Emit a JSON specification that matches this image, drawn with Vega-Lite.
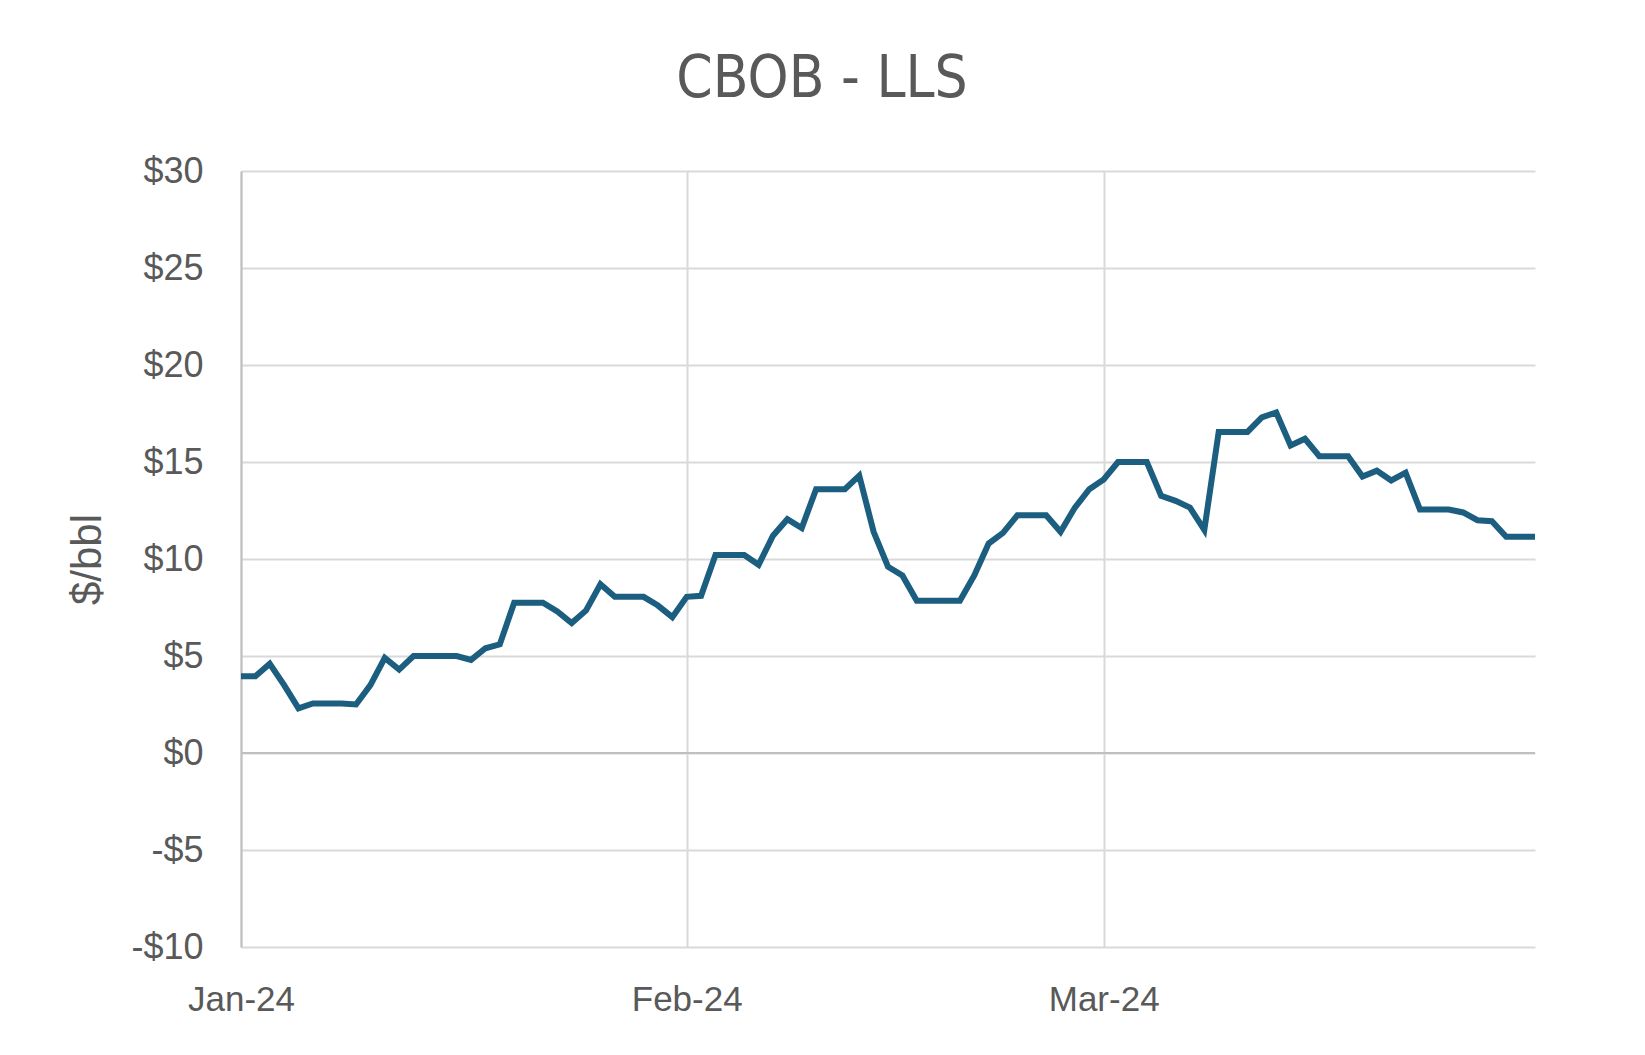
{
  "$schema": "https://vega.github.io/schema/vega-lite/v6.json",
  "autosize": "none",
  "width": 1294,
  "height": 776,
  "padding": {"left": 241, "top": 171, "right": 110, "bottom": 108},
  "background": "white",
  "title": {
    "text": "CBOB - LLS",
    "font": "DejaVu Sans Condensed, Liberation Sans",
    "fontSize": 58,
    "fontWeight": "normal",
    "color": "#595959",
    "anchor": "middle",
    "dx": -66,
    "offset": 44
  },
  "data": {
    "values": [
      {"date": "2024-01-01", "value": 3.95},
      {"date": "2024-01-02", "value": 3.95},
      {"date": "2024-01-03", "value": 4.6},
      {"date": "2024-01-04", "value": 3.5},
      {"date": "2024-01-05", "value": 2.3},
      {"date": "2024-01-06", "value": 2.55},
      {"date": "2024-01-07", "value": 2.55},
      {"date": "2024-01-08", "value": 2.55},
      {"date": "2024-01-09", "value": 2.5},
      {"date": "2024-01-10", "value": 3.5},
      {"date": "2024-01-11", "value": 4.9},
      {"date": "2024-01-12", "value": 4.3},
      {"date": "2024-01-13", "value": 5.0},
      {"date": "2024-01-14", "value": 5.0},
      {"date": "2024-01-15", "value": 5.0},
      {"date": "2024-01-16", "value": 5.0},
      {"date": "2024-01-17", "value": 4.8},
      {"date": "2024-01-18", "value": 5.4},
      {"date": "2024-01-19", "value": 5.6},
      {"date": "2024-01-20", "value": 7.75},
      {"date": "2024-01-21", "value": 7.75},
      {"date": "2024-01-22", "value": 7.75},
      {"date": "2024-01-23", "value": 7.3},
      {"date": "2024-01-24", "value": 6.7},
      {"date": "2024-01-25", "value": 7.35},
      {"date": "2024-01-26", "value": 8.7},
      {"date": "2024-01-27", "value": 8.05},
      {"date": "2024-01-28", "value": 8.05},
      {"date": "2024-01-29", "value": 8.05},
      {"date": "2024-01-30", "value": 7.6},
      {"date": "2024-01-31", "value": 7.0},
      {"date": "2024-02-01", "value": 8.05},
      {"date": "2024-02-02", "value": 8.1},
      {"date": "2024-02-03", "value": 10.2},
      {"date": "2024-02-04", "value": 10.2},
      {"date": "2024-02-05", "value": 10.2},
      {"date": "2024-02-06", "value": 9.7},
      {"date": "2024-02-07", "value": 11.2},
      {"date": "2024-02-08", "value": 12.05},
      {"date": "2024-02-09", "value": 11.6},
      {"date": "2024-02-10", "value": 13.6},
      {"date": "2024-02-11", "value": 13.6},
      {"date": "2024-02-12", "value": 13.6},
      {"date": "2024-02-13", "value": 14.3},
      {"date": "2024-02-14", "value": 11.4},
      {"date": "2024-02-15", "value": 9.6},
      {"date": "2024-02-16", "value": 9.15},
      {"date": "2024-02-17", "value": 7.85},
      {"date": "2024-02-18", "value": 7.85},
      {"date": "2024-02-19", "value": 7.85},
      {"date": "2024-02-20", "value": 7.85},
      {"date": "2024-02-21", "value": 9.15},
      {"date": "2024-02-22", "value": 10.8},
      {"date": "2024-02-23", "value": 11.35},
      {"date": "2024-02-24", "value": 12.25},
      {"date": "2024-02-25", "value": 12.25},
      {"date": "2024-02-26", "value": 12.25},
      {"date": "2024-02-27", "value": 11.4},
      {"date": "2024-02-28", "value": 12.65},
      {"date": "2024-02-29", "value": 13.6},
      {"date": "2024-03-01", "value": 14.1},
      {"date": "2024-03-02", "value": 15.0},
      {"date": "2024-03-03", "value": 15.0},
      {"date": "2024-03-04", "value": 15.0},
      {"date": "2024-03-05", "value": 13.25},
      {"date": "2024-03-06", "value": 13.0},
      {"date": "2024-03-07", "value": 12.65},
      {"date": "2024-03-08", "value": 11.5},
      {"date": "2024-03-09", "value": 16.55},
      {"date": "2024-03-10", "value": 16.55},
      {"date": "2024-03-11", "value": 16.55},
      {"date": "2024-03-12", "value": 17.3},
      {"date": "2024-03-13", "value": 17.55},
      {"date": "2024-03-14", "value": 15.85},
      {"date": "2024-03-15", "value": 16.2},
      {"date": "2024-03-16", "value": 15.3},
      {"date": "2024-03-17", "value": 15.3},
      {"date": "2024-03-18", "value": 15.3},
      {"date": "2024-03-19", "value": 14.25},
      {"date": "2024-03-20", "value": 14.55},
      {"date": "2024-03-21", "value": 14.05},
      {"date": "2024-03-22", "value": 14.45},
      {"date": "2024-03-23", "value": 12.55},
      {"date": "2024-03-24", "value": 12.55},
      {"date": "2024-03-25", "value": 12.55},
      {"date": "2024-03-26", "value": 12.4},
      {"date": "2024-03-27", "value": 12.0},
      {"date": "2024-03-28", "value": 11.95},
      {"date": "2024-03-29", "value": 11.15},
      {"date": "2024-03-30", "value": 11.15},
      {"date": "2024-03-31", "value": 11.15}
    ]
  },
  "encoding": {
    "x": {
      "field": "date",
      "type": "temporal",
      "scale": {
        "type": "utc",
        "domain": [
          {"year": 2024, "month": 1, "date": 1, "utc": true},
          {"year": 2024, "month": 3, "date": 31, "utc": true}
        ]
      },
      "axis": {
        "title": null,
        "values": [
          {"year": 2024, "month": 1, "date": 1, "utc": true},
          {"year": 2024, "month": 2, "date": 1, "utc": true},
          {"year": 2024, "month": 3, "date": 1, "utc": true}
        ],
        "labelExpr": "utcFormat(datum.value, '%b-%y')",
        "domain": false,
        "ticks": false,
        "grid": true,
        "gridColor": "#d9d9d9",
        "gridWidth": 2,
        "labelFont": "Liberation Sans",
        "labelFontSize": 35,
        "labelColor": "#595959",
        "labelPadding": 35,
        "labelAlign": "center",
        "labelFlush": false
      }
    }
  },
  "layer": [
    {
      "mark": {"type": "rule", "color": "#bfbfbf", "strokeWidth": 2},
      "encoding": {"y": {"datum": 0, "type": "quantitative"}, "x": null}
    },
    {
      "mark": {"type": "line", "color": "#1b5e80", "strokeWidth": 6, "strokeJoin": "miter", "strokeCap": "butt"},
      "encoding": {
        "y": {
          "field": "value",
          "type": "quantitative",
          "scale": {"domain": [-10, 30], "nice": false, "zero": false},
          "axis": {
            "values": [-10, -5, 0, 5, 10, 15, 20, 25, 30],
            "labelExpr": "datum.value < 0 ? '-$' + abs(datum.value) : '$' + datum.value",
            "title": "$/bbl",
            "titleFont": "Liberation Sans",
            "titleFontSize": 42,
            "titleFontWeight": "normal",
            "titleColor": "#595959",
            "titleAngle": -90,
            "titleAlign": "center",
            "titleBaseline": "middle",
            "titleX": -154,
            "titleY": 388,
            "domain": true,
            "domainColor": "#bfbfbf",
            "domainWidth": 2,
            "ticks": false,
            "grid": true,
            "gridColor": "#d9d9d9",
            "gridWidth": 2,
            "labelFont": "Liberation Sans",
            "labelFontSize": 36,
            "labelColor": "#595959",
            "labelPadding": 38
          }
        }
      }
    }
  ],
  "config": {
    "view": {"stroke": null}
  }
}
